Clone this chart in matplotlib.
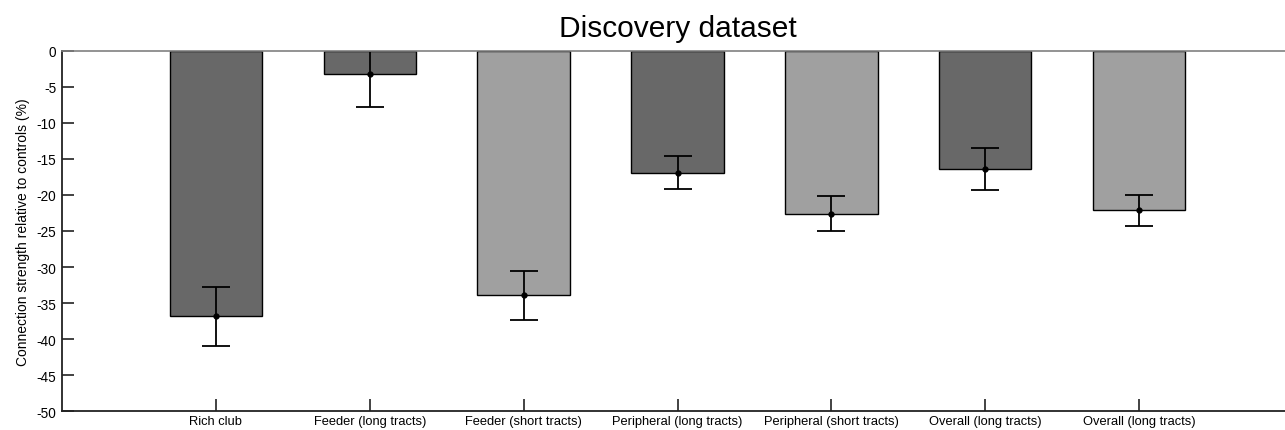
import matplotlib.pyplot as plt
import numpy as np

# values
categories = ["Rich club", "Feeder (long tracts)", "Feeder (short tracts)",
              "Peripheral (long tracts)", "Peripheral (short tracts)",
              "Overall (long tracts)", "Overall (long tracts)"]
means = [-36.8, -3.2, -33.9, -16.9, -22.6, -16.4, -22.1]
errors = [4.1, 4.6, 3.4, 2.25, 2.4, 2.95, 2.15]
shade = ["dark", "dark", "light", "dark", "light", "dark", "light"]
yticks = [0, -5, -10, -15, -20, -25, -30, -35, -40, -45, -50]

colors = {"dark": "#686868", "light": "#a0a0a0"}

plt.rcParams['font.family'] = ['Liberation Sans', 'DejaVu Sans']

W, H = 1285, 431
fig = plt.figure(figsize=(W / 100, H / 100), dpi=100)
# axes: left 62px, top 51.7px, bottom 412.3px, right beyond the canvas
ax = fig.add_axes([62 / W, (H - 412.3) / H, (1293 - 62) / W, (412.3 - 51.7) / H])

x = np.arange(1, len(categories) + 1)
ax.bar(x, means, width=0.6, color=[colors[s] for s in shade],
       edgecolor="black", linewidth=1.0, zorder=2)
ax.errorbar(x, means, yerr=errors, fmt="o", color="black", ms=3.5,
            elinewidth=1.3, capsize=10, capthick=1.3, zorder=3)

ax.set_xlim(0, 8)
ax.set_ylim(-50, 0)
ax.set_xticks(x)
ax.set_xticklabels(categories, fontsize=9.3)
ax.set_yticks(yticks)
ax.set_yticklabels([str(v) for v in yticks], fontsize=9.8)
ax.tick_params(direction="in", length=8.5, width=1.2, color="#222222")
ax.tick_params(axis="x", pad=2.5)
ax.tick_params(axis="y", pad=4)

ax.set_ylabel("Connection strength relative to controls (%)", fontsize=10, labelpad=5)
ax.set_title("Discovery dataset", fontsize=21.5, pad=10.5)

ax.spines["left"].set_linewidth(1.3)
ax.spines["bottom"].set_linewidth(1.3)
ax.spines["left"].set_color("#222222")
ax.spines["bottom"].set_color("#222222")
ax.spines["top"].set_color("#808080")
ax.spines["top"].set_linewidth(1.2)
ax.spines["top"].set_zorder(4)

fig.savefig("out.png", dpi=100)
